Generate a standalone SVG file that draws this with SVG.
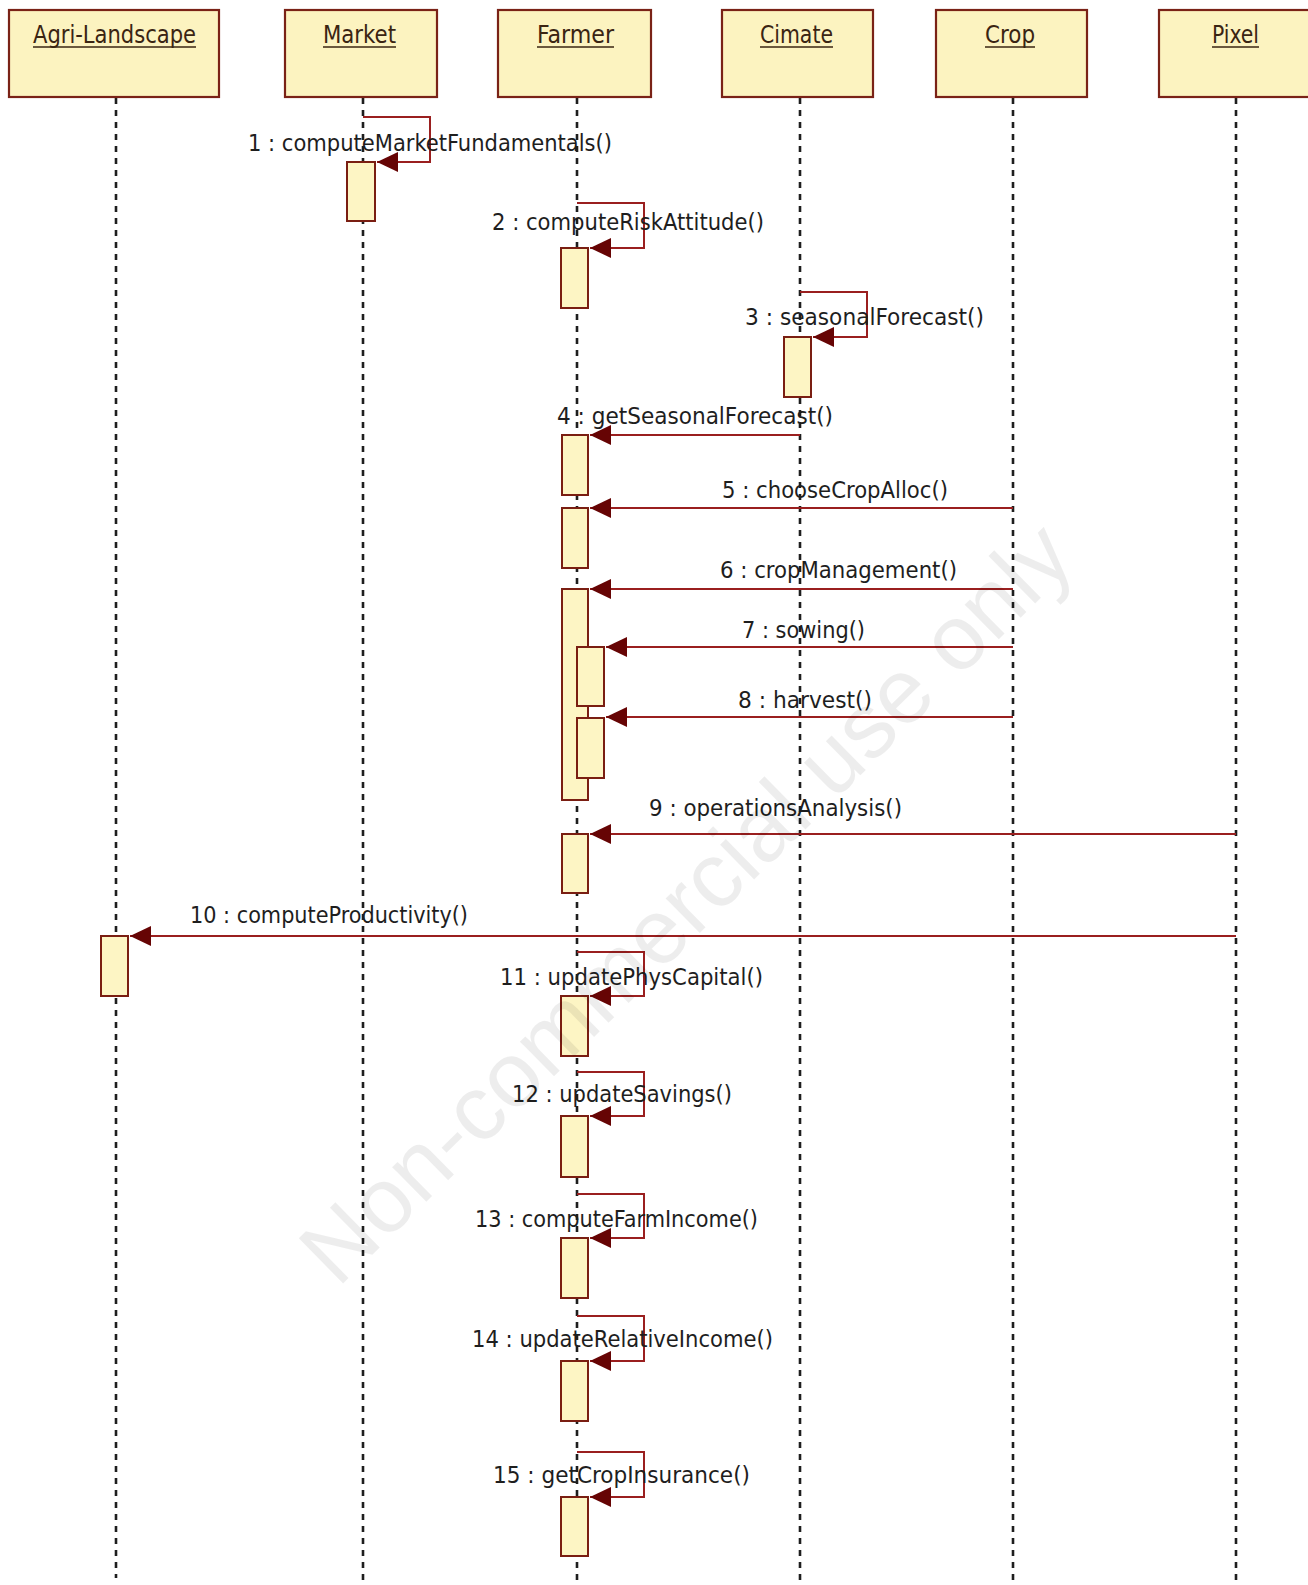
<svg xmlns="http://www.w3.org/2000/svg" width="1308" height="1585" viewBox="0 0 1308 1585">
<style>
.bg{fill:#ffffff}
.obj{fill:#fcf3c0;stroke:#7a2216;stroke-width:2.2}
.title{font-family:"DejaVu Sans Condensed","DejaVu Sans","Liberation Sans",sans-serif;font-size:24px;fill:#3a2412;text-anchor:start}
.ul{stroke:#3a2412;stroke-width:1.6}
.life{stroke:#1e1e1e;stroke-width:2.6;stroke-dasharray:6 6;fill:none}
.act{fill:#fdf5c4;stroke:#7a1e12;stroke-width:2}
.msg{stroke:#9a1f1f;stroke-width:2;fill:none;marker-end:url(#arrow)}
.lbl{font-family:"DejaVu Sans Condensed","DejaVu Sans","Liberation Sans",sans-serif;font-size:23.5px;fill:#1e1e1e}
.wm{font-family:"Liberation Sans",Arial,sans-serif;font-size:92px;fill:#000;fill-opacity:0.07}
</style>
<defs>
<marker id="arrow" viewBox="0 0 21 20" refX="21" refY="10" markerUnits="userSpaceOnUse" markerWidth="21" markerHeight="20" orient="auto">
<path d="M0,0 L21,10 L0,20 z" fill="#660404"/>
</marker>
</defs>
<rect class="bg" x="0" y="0" width="1308" height="1585"/>

<g id="lifelines">
<line class="life" x1="116" y1="98" x2="116" y2="1578"/>
<line class="life" x1="363" y1="98" x2="363" y2="1585"/>
<line class="life" x1="577" y1="98" x2="577" y2="1585"/>
<line class="life" x1="800" y1="98" x2="800" y2="1585"/>
<line class="life" x1="1013" y1="98" x2="1013" y2="1585"/>
<line class="life" x1="1236" y1="98" x2="1236" y2="1585"/>
</g>

<g id="node-agri">
<rect class="obj" x="9" y="10" width="210" height="87"/>
<text class="title" x="33" y="43" textLength="163" lengthAdjust="spacingAndGlyphs">Agri-Landscape</text>
<line class="ul" x1="33" y1="47" x2="196" y2="47"/>
<rect class="act" x="101" y="936" width="27" height="60"/>
</g>
<g id="node-market">
<rect class="obj" x="285" y="10" width="152" height="87"/>
<text class="title" x="323" y="43" textLength="73" lengthAdjust="spacingAndGlyphs">Market</text>
<line class="ul" x1="323" y1="47" x2="396" y2="47"/>
<rect class="act" x="347" y="162" width="28" height="59"/>
</g>
<g id="node-farmer">
<rect class="obj" x="498" y="10" width="153" height="87"/>
<text class="title" x="537" y="43" textLength="77" lengthAdjust="spacingAndGlyphs">Farmer</text>
<line class="ul" x1="537" y1="47" x2="614" y2="47"/>
<rect class="act" x="561" y="248" width="27" height="60"/>
<rect class="act" x="562" y="435" width="26" height="60"/>
<rect class="act" x="562" y="508" width="26" height="60"/>
<rect class="act" x="562" y="589" width="26" height="211"/>
<rect class="act" x="577" y="647" width="27" height="59"/>
<rect class="act" x="577" y="718" width="27" height="60"/>
<rect class="act" x="562" y="834" width="26" height="59"/>
<rect class="act" x="561" y="996" width="27" height="60"/>
<rect class="act" x="561" y="1116" width="27" height="61"/>
<rect class="act" x="561" y="1238" width="27" height="60"/>
<rect class="act" x="561" y="1361" width="27" height="60"/>
<rect class="act" x="561" y="1497" width="27" height="59"/>
</g>
<g id="node-cimate">
<rect class="obj" x="722" y="10" width="151" height="87"/>
<text class="title" x="760" y="43" textLength="73" lengthAdjust="spacingAndGlyphs">Cimate</text>
<line class="ul" x1="760" y1="47" x2="833" y2="47"/>
<rect class="act" x="784" y="337" width="27" height="60"/>
</g>
<g id="node-crop">
<rect class="obj" x="936" y="10" width="151" height="87"/>
<text class="title" x="985" y="43" textLength="50" lengthAdjust="spacingAndGlyphs">Crop</text>
<line class="ul" x1="985" y1="47" x2="1035" y2="47"/>
</g>
<g id="node-pixel">
<rect class="obj" x="1159" y="10" width="152" height="87"/>
<text class="title" x="1212" y="43" textLength="47" lengthAdjust="spacingAndGlyphs">Pixel</text>
<line class="ul" x1="1212" y1="47" x2="1259" y2="47"/>
</g>

<g id="connectors">
<path class="msg" d="M363,117 H430 V162 H377"/>
<path class="msg" d="M577,203 H644 V248 H590"/>
<path class="msg" d="M800,292 H867 V337 H813"/>
<path class="msg" d="M800,435 H590"/>
<path class="msg" d="M1013,508 H590"/>
<path class="msg" d="M1013,589 H590"/>
<path class="msg" d="M1013,647 H606"/>
<path class="msg" d="M1013,717 H606"/>
<path class="msg" d="M1236,834 H590"/>
<path class="msg" d="M1236,936 H130"/>
<path class="msg" d="M577,952 H644 V996 H590"/>
<path class="msg" d="M577,1072 H644 V1116 H590"/>
<path class="msg" d="M577,1194 H644 V1238 H590"/>
<path class="msg" d="M577,1316 H644 V1361 H590"/>
<path class="msg" d="M577,1452 H644 V1497 H590"/>
</g>

<g id="labels">
<text class="lbl" x="248" y="151" textLength="364" lengthAdjust="spacingAndGlyphs">1 : computeMarketFundamentals()</text>
<text class="lbl" x="492" y="230" textLength="272" lengthAdjust="spacingAndGlyphs">2 : computeRiskAttitude()</text>
<text class="lbl" x="745" y="325" textLength="239" lengthAdjust="spacingAndGlyphs">3 : seasonalForecast()</text>
<text class="lbl" x="557" y="424" textLength="276" lengthAdjust="spacingAndGlyphs">4 : getSeasonalForecast()</text>
<text class="lbl" x="722" y="498" textLength="226" lengthAdjust="spacingAndGlyphs">5 : chooseCropAlloc()</text>
<text class="lbl" x="720" y="578" textLength="237" lengthAdjust="spacingAndGlyphs">6 : cropManagement()</text>
<text class="lbl" x="742" y="638" textLength="123" lengthAdjust="spacingAndGlyphs">7 : sowing()</text>
<text class="lbl" x="738" y="708" textLength="134" lengthAdjust="spacingAndGlyphs">8 : harvest()</text>
<text class="lbl" x="649" y="816" textLength="253" lengthAdjust="spacingAndGlyphs">9 : operationsAnalysis()</text>
<text class="lbl" x="190" y="923" textLength="278" lengthAdjust="spacingAndGlyphs">10 : computeProductivity()</text>
<text class="lbl" x="500" y="985" textLength="263" lengthAdjust="spacingAndGlyphs">11 : updatePhysCapital()</text>
<text class="lbl" x="512" y="1102" textLength="220" lengthAdjust="spacingAndGlyphs">12 : updateSavings()</text>
<text class="lbl" x="475" y="1227" textLength="283" lengthAdjust="spacingAndGlyphs">13 : computeFarmIncome()</text>
<text class="lbl" x="472" y="1347" textLength="301" lengthAdjust="spacingAndGlyphs">14 : updateRelativeIncome()</text>
<text class="lbl" x="493" y="1483" textLength="257" lengthAdjust="spacingAndGlyphs">15 : getCropInsurance()</text>
</g>

<text class="wm" x="0" y="0" text-anchor="middle" transform="translate(708,925) rotate(-44.5)">Non-commercial use only</text>
</svg>
